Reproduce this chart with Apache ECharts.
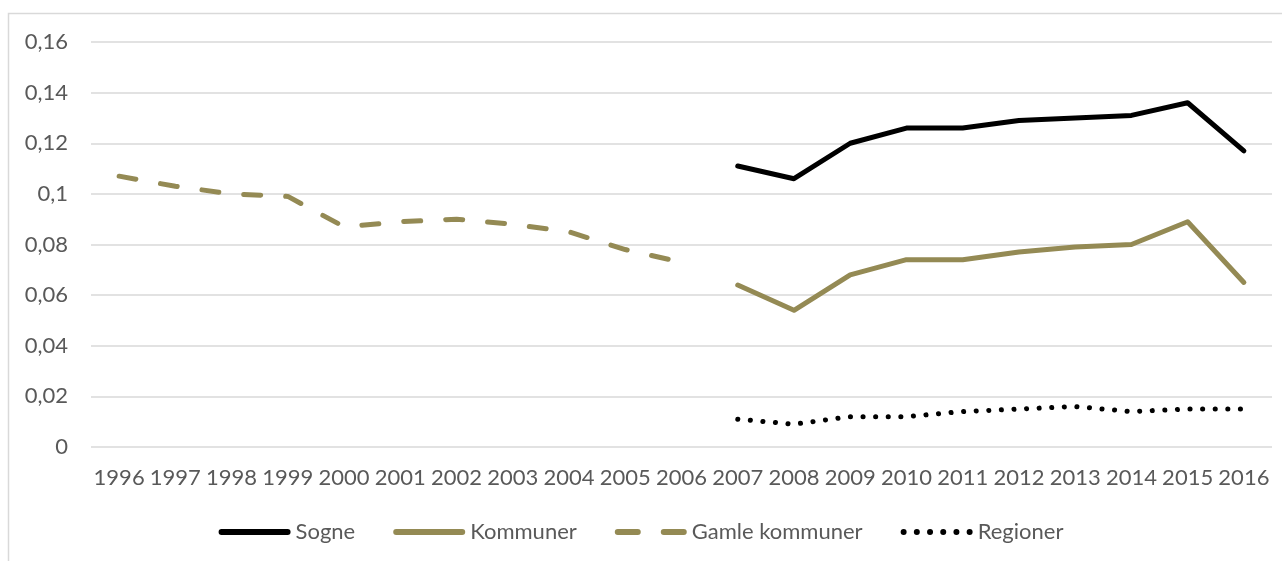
<!DOCTYPE html>
<html><head><meta charset="utf-8">
<script src="https://cdn.jsdelivr.net/npm/echarts@6/dist/echarts.min.js"></script>
<style>html,body{margin:0;padding:0;background:#fff}#c{width:1282px;height:561px}</style>
</head><body><div id="c"></div>
<script>
var years = ['1996','1997','1998','1999','2000','2001','2002','2003','2004','2005','2006','2007','2008','2009','2010','2011','2012','2013','2014','2015','2016'];
var sogne = [null,null,null,null,null,null,null,null,null,null,null,0.111,0.106,0.120,0.126,0.126,0.129,0.130,0.131,0.136,0.117];
var kommuner = [null,null,null,null,null,null,null,null,null,null,null,0.064,0.054,0.068,0.074,0.074,0.077,0.079,0.080,0.089,0.065];
var gamle = [0.107,0.103,0.100,0.099,0.087,0.089,0.090,0.088,0.085,0.078,0.073,null,null,null,null,null,null,null,null,null,null];
var regioner = [null,null,null,null,null,null,null,null,null,null,null,0.011,0.009,0.012,0.012,0.014,0.015,0.016,0.014,0.015,0.015];
var olive = '#948A54';
var FONT = 'Lato';
var chart = echarts.init(document.getElementById('c'), null, {renderer:'canvas'});
function ser(name, data, color, type){
  return {name:name, type:'line', data:data, symbol:'none', smooth:false, connectNulls:false,
    lineStyle:{color:color, width:5, type:type, cap:'round', join:'round'},
    itemStyle:{color:color}};
}
var solidIcon = 'path://M3,0H69A3,3 0 0 1 69,6H3A3,3 0 0 1 3,0Z';
var dashIcon = 'path://M3,0H23A3,3 0 0 1 23,6H3A3,3 0 0 1 3,0ZM49,0H69A3,3 0 0 1 69,6H49A3,3 0 0 1 49,0Z';
var dotIcon = 'path://M0,3A3,3 0 1 0 6,3A3,3 0 1 0 0,3ZM13.2,3A3,3 0 1 0 19.2,3A3,3 0 1 0 13.2,3ZM26.4,3A3,3 0 1 0 32.4,3A3,3 0 1 0 26.4,3ZM39.6,3A3,3 0 1 0 45.6,3A3,3 0 1 0 39.6,3ZM52.8,3A3,3 0 1 0 58.8,3A3,3 0 1 0 52.8,3ZM66,3A3,3 0 1 0 72,3A3,3 0 1 0 66,3Z';
chart.setOption({
  animation:false,
  graphic:[{type:'rect', shape:{x:8.5,y:13.5,width:1400,height:700}, style:{fill:'none', stroke:'#d9d9d9', lineWidth:1.5}, silent:true, z:-1}],
  grid:{left:91, right:10, top:42, bottom:114},
  xAxis:{type:'category', data:years, boundaryGap:true,
    axisLine:{show:false}, axisTick:{show:false},
    axisLabel:{color:'#595959', fontFamily:FONT, fontSize:22, margin:20, interval:0}},
  yAxis:{type:'value', min:0, max:0.16, interval:0.02,
    axisLine:{show:false}, axisTick:{show:false},
    splitLine:{lineStyle:{color:'#d9d9d9', width:1.5}},
    axisLabel:{color:'#595959', fontFamily:FONT, fontSize:22, margin:23,
      formatter:function(v){ return v===0?'0':String(+v.toFixed(2)).replace('.',','); }}},
  legend:{top:516, left:'center', itemWidth:72, itemHeight:6, itemGap:38, padding:5,
    textStyle:{color:'#595959', fontFamily:FONT, fontSize:22, padding:[0,0,0,0]},
    data:[
      {name:'Sogne', icon:solidIcon},
      {name:'Kommuner', icon:solidIcon},
      {name:'Gamle kommuner', icon:dashIcon},
      {name:'Regioner', icon:dotIcon}
    ]},
  series:[
    ser('Sogne', sogne, '#000000', 'solid'),
    ser('Kommuner', kommuner, olive, 'solid'),
    ser('Gamle kommuner', gamle, olive, [17,25]),
    ser('Regioner', regioner, '#000000', [0.1,12.5])
  ]
});
</script></body></html>
